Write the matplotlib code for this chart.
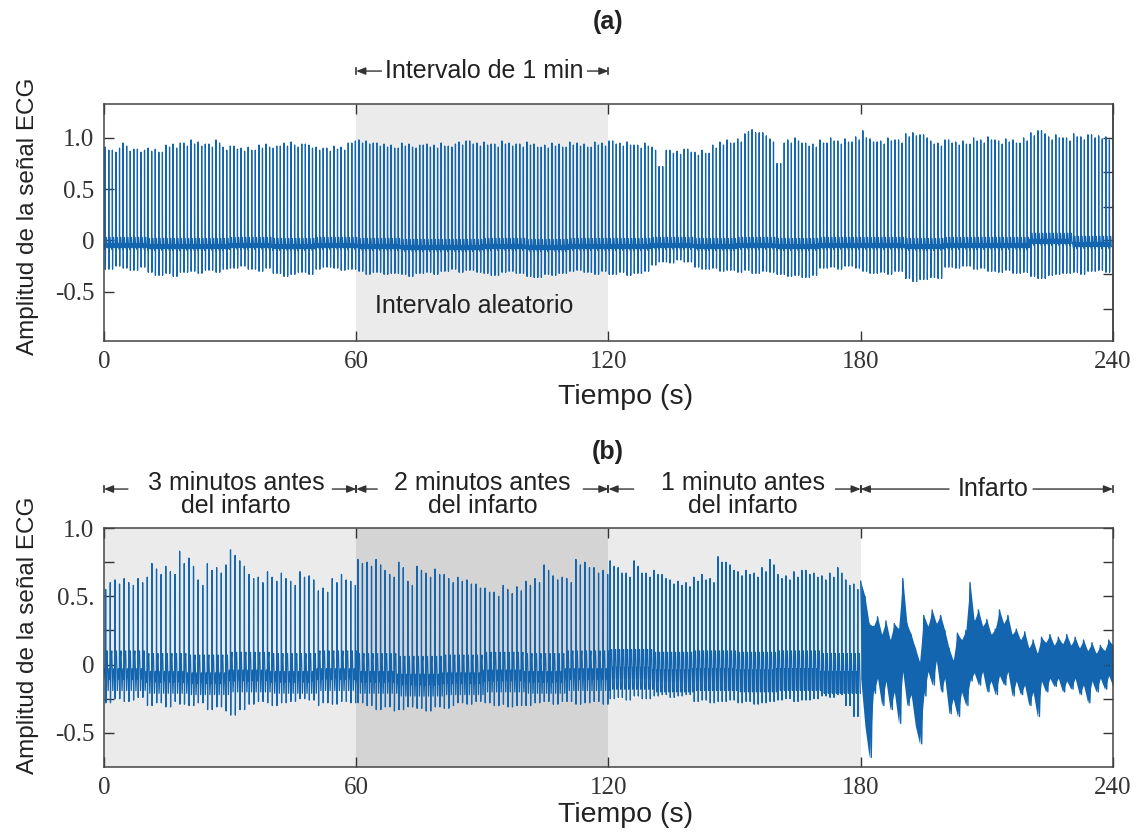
import numpy as np
import matplotlib.pyplot as plt

plt.rcParams['font.family'] = ['Liberation Sans', 'DejaVu Sans']

# ---- values ----
x_ticks = [0, 60, 120, 180, 240]

# panel (a): mean RR interval (s), R peak per 1 s, S trough per 2 s, baseline per 10 s
a_rr = 0.85
a_peak = [0.91, 0.88, 0.86, 0.90, 0.95, 0.92, 0.87, 0.89, 0.86, 0.88,
          0.90, 0.87, 0.89, 0.86, 0.93, 0.91, 0.94, 0.90, 0.95, 0.92,
          0.98, 0.94, 0.96, 0.92, 0.94, 0.91, 0.98, 0.95, 0.91, 0.88,
          0.92, 0.89, 0.90, 0.87, 0.91, 0.88, 0.93, 0.90, 0.94, 0.91,
          0.90, 0.92, 0.95, 0.92, 0.96, 0.93, 0.91, 0.94, 0.93, 0.90,
          0.91, 0.88, 0.90, 0.87, 0.92, 0.89, 0.91, 0.88, 0.95, 0.97,
          0.98, 0.95, 0.97, 0.94, 0.95, 0.92, 0.94, 0.91, 0.93, 0.90,
          0.95, 0.92, 0.94, 0.91, 0.90, 0.93, 0.94, 0.91, 0.93, 0.90,
          0.95, 0.92, 0.91, 0.94, 0.96, 0.93, 0.97, 0.94, 0.95, 0.92,
          0.96, 0.93, 0.94, 0.91, 0.97, 0.94, 0.95, 0.92, 0.94, 0.91,
          0.96, 0.93, 0.94, 0.91, 0.93, 0.90, 0.95, 0.92, 0.94, 0.91,
          0.96, 0.93, 0.95, 0.92, 0.94, 0.91, 0.96, 0.93, 0.95, 0.92,
          0.97, 0.94, 0.95, 0.92, 0.96, 0.93, 0.93, 0.90, 0.95, 0.92,
          0.91, 0.88, 0.72, 0.88, 0.88, 0.85, 0.87, 0.84, 0.89, 0.86,
          0.86, 0.83, 0.88, 0.85, 0.93, 0.90, 0.96, 0.93, 0.98, 0.95,
          0.99, 0.96, 1.04, 1.06, 1.08, 1.05, 1.05, 1.02, 0.99, 0.96,
          0.75, 0.95, 0.98, 0.95, 1.00, 0.97, 0.95, 0.92, 0.94, 0.91,
          0.98, 0.95, 1.00, 0.97, 0.97, 0.94, 0.99, 0.96, 1.01, 0.98,
          1.07, 1.00, 0.99, 0.96, 0.97, 0.94, 1.00, 0.97, 0.98, 0.95,
          1.04, 1.01, 1.05, 1.02, 1.03, 1.00, 0.97, 0.94, 0.95, 0.92,
          0.98, 0.95, 0.96, 0.93, 0.97, 0.94, 1.00, 0.97, 0.98, 0.95,
          1.01, 0.98, 0.97, 0.94, 0.99, 0.96, 0.98, 0.95, 1.00, 0.97,
          1.05, 1.02, 1.07, 1.04, 1.01, 0.98, 1.03, 1.00, 1.00, 0.97,
          1.04, 1.01, 1.01, 0.98, 1.03, 1.00, 1.02, 0.99, 1.01, 0.98]
a_trough = [-0.28, -0.25, -0.27, -0.29, -0.26, -0.31, -0.34, -0.32, -0.35, -0.31,
            -0.30, -0.32, -0.29, -0.31, -0.28, -0.27, -0.25, -0.28, -0.30, -0.27,
            -0.32, -0.35, -0.33, -0.31, -0.33, -0.28, -0.26, -0.27, -0.29, -0.28,
            -0.30, -0.33, -0.31, -0.33, -0.32, -0.33, -0.35, -0.32, -0.31, -0.33,
            -0.30, -0.28, -0.31, -0.29, -0.31, -0.32, -0.34, -0.31, -0.30, -0.32,
            -0.35, -0.36, -0.33, -0.34, -0.32, -0.30, -0.29, -0.31, -0.33, -0.30,
            -0.33, -0.31, -0.34, -0.32, -0.30, -0.24, -0.21, -0.22, -0.19, -0.21,
            -0.26, -0.28, -0.27, -0.30, -0.29, -0.31, -0.29, -0.32, -0.30, -0.31,
            -0.33, -0.35, -0.34, -0.36, -0.34, -0.27, -0.26, -0.28, -0.25, -0.27,
            -0.30, -0.32, -0.31, -0.33, -0.30, -0.37, -0.40, -0.38, -0.36, -0.37,
            -0.26, -0.27, -0.25, -0.28, -0.27, -0.30, -0.31, -0.29, -0.32, -0.31,
            -0.35, -0.37, -0.34, -0.33, -0.32, -0.31, -0.33, -0.30, -0.29, -0.31]
a_base = [-0.03, -0.04, -0.04, -0.03, -0.04, -0.03, -0.04, -0.05, -0.05, -0.04, -0.05, -0.04,
          -0.04, -0.03, -0.04, -0.03, -0.04, -0.03, -0.03, -0.04, -0.03, -0.03, 0.01, -0.02]

# panel (b): RR per minute, R peak per 1 s, S trough per 2 s, baseline per 10 s (0-180 s)
b_rr = [1.1, 1.08, 0.95]
b_peak = [0.55, 0.60, 0.62, 0.59, 0.63, 0.60, 0.62, 0.58, 0.63, 0.60,
          0.64, 0.74, 0.70, 0.66, 0.72, 0.68, 0.66, 0.62, 0.83, 0.74,
          0.78, 0.72, 0.62, 0.58, 0.74, 0.69, 0.71, 0.67, 0.77, 0.73,
          0.84, 0.80, 0.76, 0.72, 0.66, 0.63, 0.64, 0.60, 0.68, 0.65,
          0.64, 0.61, 0.67, 0.63, 0.61, 0.58, 0.68, 0.64, 0.65, 0.62,
          0.57, 0.54, 0.56, 0.53, 0.63, 0.60, 0.66, 0.62, 0.61, 0.58,
          0.77, 0.74, 0.75, 0.72, 0.77, 0.73, 0.69, 0.66, 0.67, 0.64,
          0.75, 0.71, 0.61, 0.58, 0.72, 0.69, 0.67, 0.64, 0.70, 0.66,
          0.66, 0.63, 0.63, 0.60, 0.64, 0.61, 0.62, 0.59, 0.59, 0.56,
          0.56, 0.53, 0.53, 0.50, 0.58, 0.55, 0.55, 0.52, 0.57, 0.54,
          0.61, 0.58, 0.63, 0.60, 0.73, 0.69, 0.65, 0.62, 0.64, 0.61,
          0.63, 0.60, 0.77, 0.73, 0.75, 0.71, 0.71, 0.67, 0.69, 0.66,
          0.76, 0.72, 0.71, 0.67, 0.67, 0.64, 0.76, 0.72, 0.67, 0.64,
          0.69, 0.66, 0.66, 0.63, 0.62, 0.59, 0.61, 0.58, 0.60, 0.57,
          0.64, 0.61, 0.66, 0.62, 0.63, 0.60, 0.79, 0.75, 0.73, 0.69,
          0.68, 0.65, 0.69, 0.66, 0.67, 0.64, 0.71, 0.68, 0.77, 0.73,
          0.66, 0.63, 0.65, 0.62, 0.68, 0.64, 0.69, 0.66, 0.67, 0.64,
          0.65, 0.62, 0.67, 0.64, 0.71, 0.67, 0.62, 0.58, 0.59, 0.55]
b_trough = [-0.28, -0.25, -0.27, -0.26, -0.24, -0.30, -0.28, -0.31, -0.27, -0.29,
            -0.30, -0.28, -0.33, -0.31, -0.34, -0.37, -0.33, -0.29, -0.27, -0.28,
            -0.30, -0.28, -0.27, -0.25, -0.26, -0.30, -0.28, -0.29, -0.27, -0.28,
            -0.28, -0.30, -0.33, -0.31, -0.34, -0.33, -0.31, -0.32, -0.34, -0.31,
            -0.32, -0.30, -0.28, -0.29, -0.27, -0.28, -0.30, -0.29, -0.31, -0.30,
            -0.30, -0.28, -0.27, -0.29, -0.27, -0.27, -0.29, -0.28, -0.27, -0.29,
            -0.25, -0.24, -0.26, -0.23, -0.25, -0.23, -0.22, -0.24, -0.23, -0.22,
            -0.27, -0.26, -0.28, -0.27, -0.26, -0.28, -0.27, -0.29, -0.28, -0.27,
            -0.26, -0.25, -0.27, -0.26, -0.25, -0.23, -0.24, -0.22, -0.30, -0.38]
b_base = [-0.03, -0.05, -0.06, -0.04, -0.05, -0.03, -0.05, -0.07, -0.06,
          -0.04, -0.05, -0.03, -0.02, -0.04, -0.03, -0.04, -0.03, -0.05]

# infarct (180-240 s): upper / lower edge of the trace, one value per second
inf_t = list(range(180, 241))
inf_hi = [0.61, 0.50, 0.30, 0.28, 0.35, 0.22, 0.32, 0.18, 0.30, 0.26,
          0.63, 0.30, 0.22, 0.12, 0.02, 0.36, 0.28, 0.40, 0.30, 0.36,
          0.25, 0.12, 0.03, 0.23, 0.18, 0.25, 0.60, 0.32, 0.40, 0.28,
          0.33, 0.22, 0.26, 0.40, 0.30, 0.36, 0.22, 0.26, 0.18, 0.24,
          0.12, 0.18, 0.08, 0.20, 0.16, 0.22, 0.14, 0.20, 0.15, 0.22,
          0.14, 0.20, 0.12, 0.18, 0.10, 0.16, 0.08, 0.14, 0.10, 0.18, 0.14]
inf_lo = [-0.10, -0.45, -0.68, -0.21, -0.10, -0.30, -0.12, -0.33, -0.20, -0.43,
          -0.05, -0.30, -0.22, -0.45, -0.58, -0.23, -0.05, -0.15, 0.03, -0.20,
          -0.10, -0.36, -0.25, -0.38, -0.20, -0.30, -0.12, -0.06, -0.15, -0.05,
          -0.20, -0.12, -0.22, -0.08, -0.15, -0.05, -0.23, -0.12, -0.22, -0.15,
          -0.30, -0.20, -0.38, -0.12, -0.20, -0.10, -0.16, -0.10, -0.20, -0.12,
          -0.18, -0.10, -0.22, -0.15, -0.28, -0.12, -0.20, -0.10, -0.18, -0.08, -0.16]

b_labels = ['3 minutos antes\ndel infarto', '2 minutos antes\ndel infarto',
            '1 minuto antes\ndel infarto', 'Infarto']

LINE = '#1265ae'
INK = '#333333'


def ecg_trace(beats, peak, trough, base, dt, dv):
    # one polyline per panel; dt/dv give the shape of a beat around R and S
    xs, ys = [], []
    for t in beats:
        p = peak[int(t)]
        s = trough[int(t // 2)]
        b = base[int(t // 10)]
        vals = [b + v for v in dv]
        vals[2] = p
        vals[3] = s
        xs += [t + d for d in dt]
        ys += vals
    return xs, ys


def style_axes(ax, ylim, yticks, ylabels):
    ax.set_xlim(0, 240)
    ax.set_ylim(*ylim)
    ax.set_xticks(x_ticks)
    ax.set_xticklabels([str(v) for v in x_ticks], fontfamily='Liberation Serif', fontsize=18)
    ax.set_yticks(yticks)
    ax.set_yticklabels(ylabels, fontfamily='Liberation Serif', fontsize=18)
    ax.tick_params(direction='in', length=7, width=1, top=True, pad=7, colors=INK)
    for sp in ax.spines.values():
        sp.set_color('#444444')
        sp.set_linewidth(1.1)


def bracket(ax, tail, tip, y, bar_h):
    tr = ax.get_xaxis_transform()
    ax.annotate('', xy=(tip, y), xytext=(tail, y), xycoords=tr, textcoords=tr,
                annotation_clip=False,
                arrowprops=dict(arrowstyle='-|>,head_length=0.55,head_width=0.22',
                                color=INK, lw=1.0, shrinkA=0, shrinkB=0, mutation_scale=10))
    ax.plot([tip, tip], [y - bar_h, y + bar_h], color=INK, lw=1.2, transform=tr, clip_on=False)


fig = plt.figure(figsize=(11.4, 8.34), dpi=100)
ax_a = fig.add_axes([0.0912, 0.5911, 0.8851, 0.2842])
ax_b = fig.add_axes([0.0912, 0.0803, 0.8851, 0.2866])

# ---- panel (a) ----
ax_a.axvspan(60, 120, color='#ebebeb', lw=0, zorder=0)
beats_a = np.arange(0.3, 240, a_rr)
xa, ya = ecg_trace(beats_a, a_peak, a_trough, a_base,
                   [-0.25, -0.03, 0.0, 0.04, 0.08, 0.3, 0.45],
                   [0.0, -0.06, 0.0, 0.0, -0.02, 0.06, -0.04])
ax_a.plot(xa, ya, color=LINE, lw=0.9)
style_axes(ax_a, (-0.98, 1.33), [-0.5, 0, 0.5, 1.0], ['-0.5', '0', '0.5', '1.0'])
ax_a.tick_params(right=False)
sec = ax_a.secondary_yaxis('right')
sec.set_yticks([1.0, 0.67, 0.33, 0.0, -0.33, -0.67])
sec.tick_params(direction='in', length=7, width=1, labelright=False, colors=INK)
sec.spines['right'].set_color('#444444')
sec.spines['right'].set_linewidth(1.1)

ax_a.text(88, -0.64, 'Intervalo aleatorio', ha='center', va='center', fontsize=18, color='#222222')
ya_br = 1.139
ax_a.text(90.5, ya_br, 'Intervalo de 1 min', transform=ax_a.get_xaxis_transform(),
          ha='center', va='center', fontsize=18, color='#222222')
bracket(ax_a, 66, 60, ya_br, 0.013)
bracket(ax_a, 115, 120, ya_br, 0.013)
ax_a.text(0.517, -0.236, 'Tiempo (s)', transform=ax_a.transAxes, ha='center', va='center',
          fontsize=20.5, color='#222222')
ax_a.text(-0.0753, 0.525, 'Amplitud de la señal ECG', transform=ax_a.transAxes, rotation=90,
          ha='center', va='center', fontsize=17.5, color='#222222')
fig.text(0.533, 0.974, '(a)', ha='center', va='center', fontsize=18, weight='bold', color='#222222')

# ---- panel (b) ----
for x0, col in zip([0, 60, 120], ['#ebebeb', '#d4d4d4', '#ebebeb']):
    ax_b.axvspan(x0, x0 + 60, color=col, lw=0, zorder=0)
beats_b = np.concatenate([np.arange(60 * k + 0.4, 60 * k + 60, rr) for k, rr in enumerate(b_rr)])
beats_b = beats_b[beats_b < 179.6]
xb, yb = ecg_trace(beats_b, b_peak, b_trough, b_base,
                   [-0.3, -0.04, 0.0, 0.05, 0.12, 0.35, 0.6],
                   [0.0, -0.08, 0.0, 0.0, 0.06, 0.13, -0.16])
ax_b.plot(xb, yb, color=LINE, lw=0.9)
ax_b.fill_between(inf_t, inf_lo, inf_hi, color=LINE, lw=0)
zig_t = [t + h for t in inf_t for h in (0.0, 0.5)]
zig_v = [v for pair in zip(inf_hi, inf_lo) for v in pair]
ax_b.plot(zig_t[:-1], zig_v[:-1], color=LINE, lw=1.0)
style_axes(ax_b, (-0.75, 1.0), [-0.5, -0.25, 0, 0.25, 0.5, 0.75, 1.0],
           ['-0.5', '', '0', '', '0.5.', '', '1.0'])
ax_b.tick_params(right=True)

yb_br = 1.163
tr_b = ax_b.get_xaxis_transform()
for lab, xc, (lo, hi), (t0, t1) in zip(b_labels, [31.4, 90, 151.9, 211.4],
                                       [(0, 60), (60, 120), (120, 180), (180, 240)],
                                       [(5.7, 54.3), (65, 114), (126, 174), (201, 221)]):
    ax_b.text(xc, 1.142 if '\n' in lab else yb_br, lab, transform=tr_b, ha='center', va='center',
              fontsize=18, linespacing=0.95, color='#222222')
    bracket(ax_b, t0, lo, yb_br, 0.013)
    bracket(ax_b, t1, hi, yb_br, 0.013)
ax_b.text(0.517, -0.20, 'Tiempo (s)', transform=ax_b.transAxes, ha='center', va='center',
          fontsize=20.5, color='#222222')
ax_b.text(-0.0753, 0.552, 'Amplitud de la señal ECG', transform=ax_b.transAxes, rotation=90,
          ha='center', va='center', fontsize=17.5, color='#222222')
fig.text(0.533, 0.458, '(b)', ha='center', va='center', fontsize=18, weight='bold', color='#222222')

fig.savefig('out.png', dpi=100)
